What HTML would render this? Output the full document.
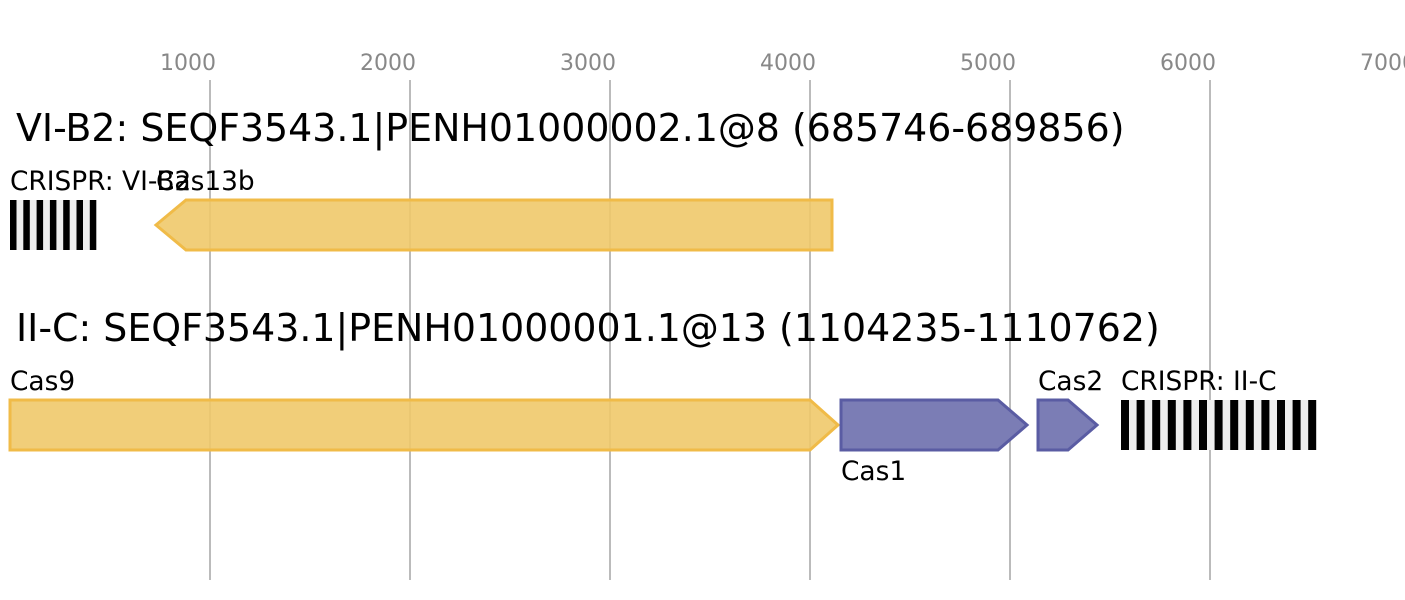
<!DOCTYPE html>
<html><head><style>body{margin:0;background:#fff}svg{display:block}</style></head><body>
<svg width="1405" height="600" xmlns="http://www.w3.org/2000/svg" font-family="DejaVu Sans, Liberation Sans, sans-serif">
<g stroke="#bbb" stroke-width="2">
<line x1="210" y1="80" x2="210" y2="580"/><line x1="410" y1="80" x2="410" y2="580"/><line x1="610" y1="80" x2="610" y2="580"/><line x1="810" y1="80" x2="810" y2="580"/><line x1="1010" y1="80" x2="1010" y2="580"/><line x1="1210" y1="80" x2="1210" y2="580"/>
</g>
<g fill="#888" font-size="22" text-anchor="middle">
<text x="188" y="70">1000</text><text x="388" y="70">2000</text><text x="588" y="70">3000</text><text x="788" y="70">4000</text><text x="988" y="70">5000</text><text x="1188" y="70">6000</text><text x="1388" y="70">7000</text>
</g>
<text x="16" y="141" font-size="37.9">VI-B2: SEQF3543.1|PENH01000002.1@8 (685746-689856)</text>
<text x="16" y="341" font-size="37.9">II-C: SEQF3543.1|PENH01000001.1@13 (1104235-1110762)</text>
<g font-size="26.4">
<text x="10" y="190">CRISPR: VI-B2</text><text x="156" y="190">Cas13b</text>
<text x="10" y="390">Cas9</text><text x="1038" y="390">Cas2</text><text x="1121" y="390">CRISPR: II-C</text>
<text x="841" y="480">Cas1</text>
</g>
<rect x="10" y="200" width="86" height="50" fill="#eee"/>
<g fill="#000">
<rect x="10" y="200" width="6.5" height="50"/><rect x="23.3" y="200" width="6.5" height="50"/><rect x="36.6" y="200" width="6.5" height="50"/><rect x="49.9" y="200" width="6.5" height="50"/><rect x="63.2" y="200" width="6.5" height="50"/><rect x="76.5" y="200" width="6.5" height="50"/><rect x="89.8" y="200" width="6.5" height="50"/>
</g>
<rect x="1121" y="400" width="195" height="50" fill="#eee"/>
<g fill="#000">
<rect x="1121" y="400" width="8" height="50"/><rect x="1136.6" y="400" width="8" height="50"/><rect x="1152.2" y="400" width="8" height="50"/><rect x="1167.8" y="400" width="8" height="50"/><rect x="1183.4" y="400" width="8" height="50"/><rect x="1199" y="400" width="8" height="50"/><rect x="1214.6" y="400" width="8" height="50"/><rect x="1230.2" y="400" width="8" height="50"/><rect x="1245.8" y="400" width="8" height="50"/><rect x="1261.4" y="400" width="8" height="50"/><rect x="1277" y="400" width="8" height="50"/><rect x="1292.6" y="400" width="8" height="50"/><rect x="1308.2" y="400" width="8" height="50"/>
</g>
<g stroke-width="3">
<polygon points="156,225 186,200 832,200 832,250 186,250" fill="#f0c96a" fill-opacity="0.9" stroke="#f0bb48"/>
<polygon points="10,400 810,400 838,425 810,450 10,450" fill="#f0c96a" fill-opacity="0.9" stroke="#f0bb48"/>
<polygon points="841,400 998,400 1027,425 998,450 841,450" fill="#7b7db5" stroke="#5a5ca3"/>
<polygon points="1038,400 1068,400 1097,425 1068,450 1038,450" fill="#7b7db5" stroke="#5a5ca3"/>
</g>
</svg>
</body></html>
